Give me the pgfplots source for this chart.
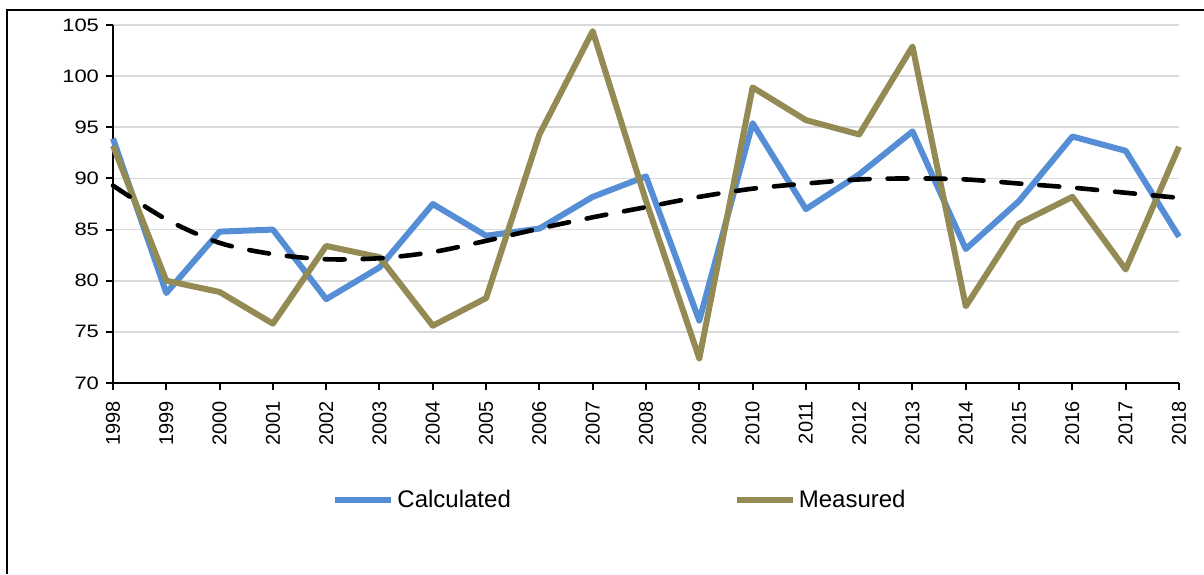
\documentclass[border=0pt]{standalone}
\usepackage{pgfplots}
\pgfplotsset{compat=1.18}
\usepackage{fontspec}
\setmainfont{Liberation Sans}
\newfontfamily\yfont[FakeStretch=1.22]{Liberation Sans}
\definecolor{calc}{RGB}{85,142,213}
\definecolor{meas}{RGB}{148,138,84}
\definecolor{gridc}{RGB}{217,217,217}
\begin{document}
\begin{tikzpicture}
\path[use as bounding box] (-56.5pt,-95.5pt) rectangle (545.5pt,191.5pt);
\draw[line width=0.8pt] (-53pt,-95.5pt) -- (-53pt,186.5pt) -- (545.5pt,186.5pt);
\begin{axis}[
  at={(0pt,0pt)}, anchor=south west,
  width=533pt, height=179pt, scale only axis,
  xmin=1998, xmax=2018, ymin=70, ymax=105,
  xtick={1998,1999,...,2018},
  ytick={70,75,...,105},
  axis x line*=bottom, axis y line*=left,
  axis line style={line width=1.4pt, -},
  ymajorgrids, grid style={color=gridc, line width=0.8pt},
  tick align=outside, major tick length=3.5pt,
  tick style={black, line width=1pt},
  /pgf/number format/assume math mode=true,
  /pgf/number format/1000 sep={},
  y tick label style={font=\yfont\fontsize{9}{10}\selectfont},
  x tick label style={rotate=90, anchor=east, font=\fontsize{10}{11}\selectfont},
  xticklabel shift=2pt,
  clip=false,
  legend style={at={(0.2055,-0.327)}, anchor=west, draw=none, fill=none, inner sep=0pt,
    font=\fontsize{12}{14}\selectfont,
    legend columns=2,
    /tikz/every even column/.append style={column sep=110pt},
    nodes={inner xsep=1.5pt}},
  legend image code/.code={\draw[#1] (0pt,0pt) -- (28pt,0pt);},
]
\addplot[calc, line width=3pt, line join=round] coordinates {
(1998,93.9) (1999,78.8) (2000,84.8) (2001,85.0) (2002,78.2) (2003,81.3) (2004,87.5)
(2005,84.4) (2006,85.1) (2007,88.2) (2008,90.2) (2009,76.1) (2010,95.4) (2011,87.0)
(2012,90.4) (2013,94.6) (2014,83.1) (2015,87.8) (2016,94.1) (2017,92.7) (2018,84.3)};
\addlegendentry{Calculated}
\addplot[meas, line width=3pt, line join=round] coordinates {
(1998,93.2) (1999,80.0) (2000,78.9) (2001,75.8) (2002,83.4) (2003,82.3) (2004,75.6)
(2005,78.3) (2006,94.3) (2007,104.4) (2008,87.8) (2009,72.4) (2010,98.9) (2011,95.7)
(2012,94.3) (2013,102.9) (2014,77.5) (2015,85.6) (2016,88.2) (2017,81.1) (2018,93.1)};
\addlegendentry{Measured}
\addplot[black, line width=2.3pt, line cap=round, dash pattern=on 10pt off 9pt, smooth, forget plot] coordinates {
(1998,89.3) (1999,86.0) (2000,83.7) (2001,82.6) (2002,82.1) (2003,82.2) (2004,82.8)
(2005,83.9) (2006,85.1) (2007,86.2) (2008,87.2) (2009,88.2) (2010,89.0) (2011,89.5)
(2012,89.9) (2013,90.0) (2014,89.9) (2015,89.5) (2016,89.1) (2017,88.6) (2018,88.1)};
\end{axis}
\end{tikzpicture}
\end{document}
